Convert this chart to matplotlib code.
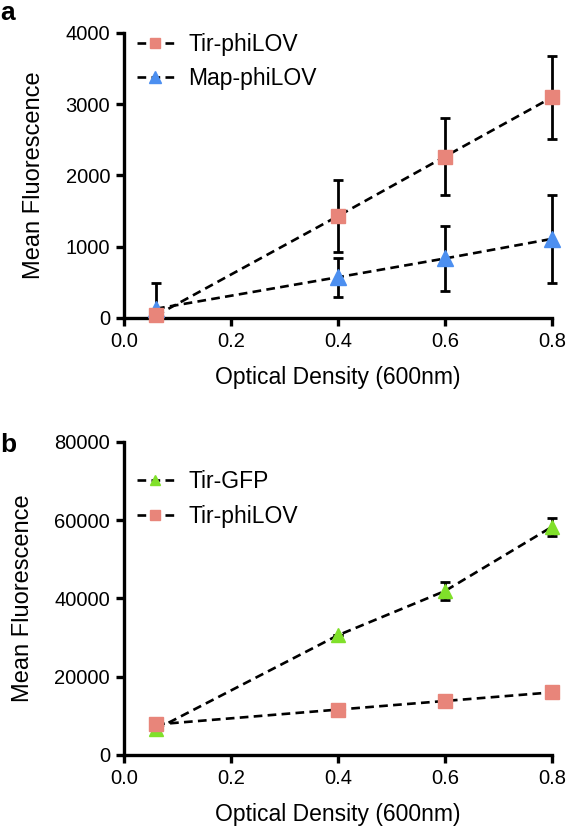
import matplotlib.pyplot as plt

plt.rcParams['font.family'] = ['Liberation Sans', 'DejaVu Sans']

od = [0.06, 0.4, 0.6, 0.8]

# panel a
tir_lov_a = [35, 1430, 2265, 3095]
tir_lov_a_err = [0, 500, 537, 580]
map_lov_a = [130, 572, 835, 1110]
map_lov_a_err = [365, 273, 450, 622]

# panel b
tir_gfp_b = [6600, 30600, 41900, 58300]
tir_gfp_b_err = [0, 0, 2300, 2300]
tir_lov_b = [7800, 11600, 13800, 16000]
tir_lov_b_err = [0, 0, 0, 0]

salmon = '#E8857A'
blue = '#4C8FF0'
green = '#80E02A'

fig = plt.figure(figsize=(5.66, 8.3), dpi=100)
ax1 = fig.add_axes([0.2191, 0.6169, 0.756, 0.3434])
ax2 = fig.add_axes([0.2191, 0.0904, 0.756, 0.3771])


def series(ax, y, err, marker, color, label, ms):
	# lower bar stops at the x axis
	low = [min(e, v) for e, v in zip(err, y)]
	ax.errorbar(od, y, yerr=[low, err], fmt='none', ecolor='black', elinewidth=2.0,
		capsize=3.5, capthick=2.0, zorder=3, clip_on=False)
	ax.plot(od, y, linestyle=(0, (3.3, 2.0)), color='black', lw=1.9,
		marker=marker, markersize=ms, markerfacecolor=color,
		markeredgecolor=color, label=label, zorder=4, clip_on=False)


def style(ax, ymax, ystep, leg_top):
	ax.set_xlim(0, 0.8)
	ax.set_ylim(0, ymax)
	ax.set_xticks([0.0, 0.2, 0.4, 0.6, 0.8])
	ax.set_xticklabels(['0.0', '0.2', '0.4', '0.6', '0.8'])
	ax.set_yticks(range(0, ymax + 1, ystep))
	for s in ['top', 'right']:
		ax.spines[s].set_visible(False)
	for s in ['left', 'bottom']:
		ax.spines[s].set_linewidth(2.4)
	ax.tick_params(width=2.4, length=5.5, labelsize=14.5, pad=4.5)
	ax.set_xlabel('Optical Density (600nm)', fontsize=16.5, labelpad=11)
	ax.set_ylabel('Mean Fluorescence', fontsize=17, labelpad=15)
	ax.legend(loc='upper left', frameon=False, fontsize=16.5, handlelength=1.6,
		labelspacing=0.5, borderaxespad=0, borderpad=0, handletextpad=0.65,
		markerscale=0.7, bbox_to_anchor=(0.03, leg_top))


series(ax1, tir_lov_a, tir_lov_a_err, 's', salmon, 'Tir-phiLOV', 10)
series(ax1, map_lov_a, map_lov_a_err, '^', blue, 'Map-phiLOV', 11.5)
# square on top at first point
ax1.lines[-1].set_zorder(3.5)
style(ax1, 4000, 1000, 1.0)

series(ax2, tir_gfp_b, tir_gfp_b_err, '^', green, 'Tir-GFP', 9.5)
series(ax2, tir_lov_b, tir_lov_b_err, 's', salmon, 'Tir-phiLOV', 10)
style(ax2, 80000, 20000, 0.91)

fig.text(0.0, 0.976, 'a', fontsize=19, fontweight='bold', va='baseline')
fig.text(0.0, 0.4554, 'b', fontsize=19, fontweight='bold', va='baseline')

plt.savefig('out.png', dpi=100)
